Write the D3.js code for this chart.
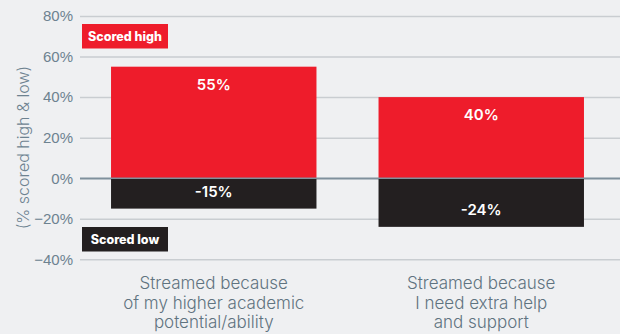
<!DOCTYPE html>
<html>
<head>
<meta charset="utf-8">
<script src="https://cdn.jsdelivr.net/npm/d3@7"></script>
<style>
  html, body { margin: 0; padding: 0; background: #eff0f2; }
  svg { display: block; font-family: Inter, "Noto Sans", sans-serif; }
</style>
</head>
<body>
<svg id="chart" width="620" height="334"></svg>
<script>
// Survey reasons for streaming and share of students scoring high / low
const categories = [
  ["Streamed because", "of my higher academic", "potential/ability"],
  ["Streamed because", "I need extra help", "and support"]
];
const scoredHigh = [55, 40];
const scoredLow = [-15, -24];
const yTicks = [80, 60, 40, 20, 0, -20, -40];
const legendLabels = ["Scored high", "Scored low"];
const axisTitle = "(% scored high & low)";

const RED = "#ee1c2b", BLACK = "#231f20";
const svg = d3.select("#chart");

const y = d3.scaleLinear().domain([-40, 80]).range([259.3, 16]);
const x = d3.scaleBand()
  .domain(d3.range(categories.length))
  .range([80, 615])
  .paddingInner(0.232)
  .paddingOuter(0.116);

// grid lines and tick labels
const yAxis = d3.axisLeft(y).tickValues(yTicks).tickSize(-540).tickFormat(d => d + "%").tickPadding(7);
const gAxis = svg.append("g").attr("transform", "translate(80,0)").call(yAxis);
gAxis.select(".domain").remove();
gAxis.selectAll(".tick line")
  .attr("stroke", d => d === 0 ? "#7f909c" : "#c9cdd1")
  .attr("stroke-width", 1.5);
gAxis.selectAll(".tick text")
  .attr("fill", "#6d8290")
  .attr("font-size", 15)
  .attr("font-weight", 300)
  .attr("x", -7)
  .text(d => (d < 0 ? "\u2212" + Math.abs(d) : d) + "%");

// axis title
svg.append("text")
  .attr("transform", `translate(29,${(y(80) + y(-40)) / 2 + 10}) rotate(-90)`)
  .attr("text-anchor", "middle")
  .attr("fill", "#6d8290")
  .attr("font-size", 16)
  .attr("font-weight", 300)
  .text(axisTitle);

// bars
const bars = svg.append("g");
bars.selectAll("rect.high").data(scoredHigh).join("rect")
  .attr("class", "high")
  .attr("x", (d, i) => x(i))
  .attr("width", x.bandwidth())
  .attr("y", d => y(d))
  .attr("height", d => y(0) - y(d))
  .attr("fill", RED);
bars.selectAll("rect.low").data(scoredLow).join("rect")
  .attr("class", "low")
  .attr("x", (d, i) => x(i))
  .attr("width", x.bandwidth())
  .attr("y", y(0))
  .attr("height", d => y(d) - y(0))
  .attr("fill", BLACK);

// zero line above bars
svg.append("line")
  .attr("x1", 80).attr("x2", 620)
  .attr("y1", y(0)).attr("y2", y(0))
  .attr("stroke", "#7f909c").attr("stroke-width", 1.5);

// value labels
const labels = svg.append("g")
  .attr("fill", "#fff")
  .attr("font-size", 15)
  .attr("font-weight", 600)
  .attr("text-anchor", "middle");
labels.selectAll("text.high").data(scoredHigh).join("text")
  .attr("class", "high")
  .attr("x", (d, i) => x(i) + x.bandwidth() / 2)
  .attr("y", d => y(d) + 18)
  .attr("dy", "0.35em")
  .text(d => d + "%");
labels.selectAll("text.low").data(scoredLow).join("text")
  .attr("class", "low")
  .attr("x", (d, i) => x(i) + x.bandwidth() / 2)
  .attr("y", d => y(d) - 17)
  .attr("dy", "0.35em")
  .text(d => d + "%");

// legend boxes
const legendColors = [RED, BLACK];
const legendTop = [24, 227];
legendLabels.forEach((lab, i) => {
  const g = svg.append("g").attr("transform", `translate(82,${legendTop[i]})`);
  g.append("rect").attr("width", 86).attr("height", 24.5).attr("fill", legendColors[i]);
  g.append("text")
    .attr("x", 43).attr("y", 12.5).attr("dy", "0.35em")
    .attr("text-anchor", "middle")
    .attr("fill", "#fff")
    .attr("font-size", 12.5)
    .attr("font-weight", 800)
    .text(lab);
});

// category labels
const cat = svg.append("g")
  .attr("fill", "#5f7380")
  .attr("font-size", 17)
  .attr("font-weight", 300)
  .attr("text-anchor", "middle");
categories.forEach((lines, i) => {
  const t = cat.append("text").attr("x", x(i) + x.bandwidth() / 2);
  lines.forEach((ln, j) => {
    t.append("tspan")
      .attr("x", x(i) + x.bandwidth() / 2)
      .attr("y", 283.5 + j * 19.5)
      .attr("dy", "0.35em")
      .text(ln);
  });
});
</script>
</body>
</html>
